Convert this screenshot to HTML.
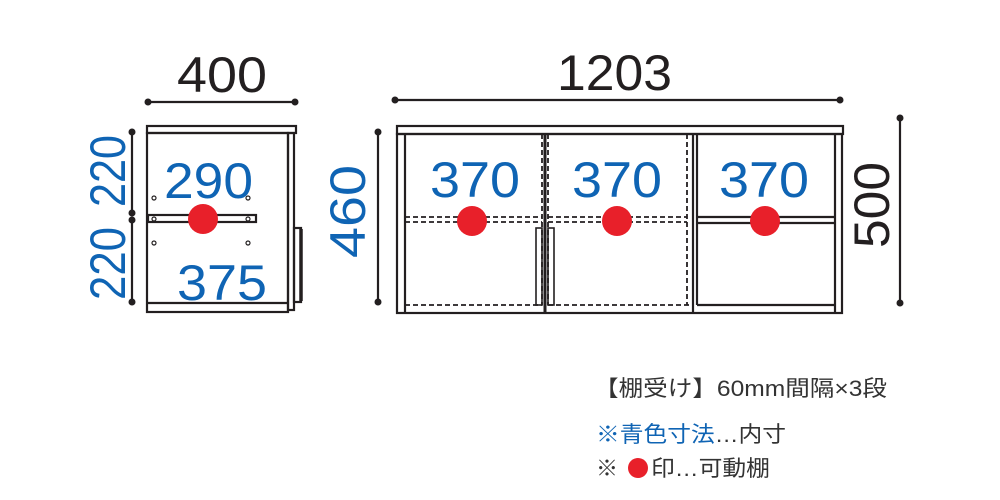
<!DOCTYPE html>
<html><head><meta charset="utf-8"><style>
html,body{margin:0;padding:0;background:#fff;}
svg{display:block;}
text{font-family:"Liberation Sans","Noto Sans CJK JP",sans-serif;}
</style></head><body>
<svg width="1000" height="500" viewBox="0 0 1000 500" xmlns="http://www.w3.org/2000/svg">
<g fill="none" stroke="#231f20" stroke-width="2.2">
<rect x="147" y="126" width="149" height="7"/>
<rect x="147" y="133" width="141" height="179"/>
<rect x="288" y="133" width="6" height="177"/>
<line x1="147" y1="303" x2="288" y2="303"/>
<rect x="148" y="215" width="108" height="7"/>
<rect x="294" y="228" width="7" height="74"/>
</g>
<line x1="301" y1="229" x2="301" y2="301" stroke="#231f20" stroke-width="3.5"/>
<g fill="#fff" stroke="#231f20" stroke-width="1.2">
<circle cx="154" cy="198" r="2"/><circle cx="248" cy="198" r="2"/>
<circle cx="154" cy="219" r="2"/><circle cx="248" cy="219" r="2"/>
<circle cx="154" cy="243" r="2"/><circle cx="248" cy="243" r="2"/>
</g>
<g fill="none" stroke="#231f20" stroke-width="2.2">
<rect x="397" y="126" width="446" height="8"/>
<rect x="397" y="134" width="445" height="179"/>
<line x1="405" y1="134" x2="405" y2="313"/>
<line x1="835" y1="134" x2="835" y2="313"/>
<line x1="545" y1="134" x2="545" y2="313" stroke-width="3"/>
<line x1="693" y1="134" x2="693" y2="313"/>
<line x1="697" y1="134" x2="697" y2="305"/>
<line x1="697" y1="305" x2="835" y2="305"/>
<line x1="697" y1="217" x2="835" y2="217"/>
<line x1="697" y1="223" x2="835" y2="223"/>
<rect x="536" y="228" width="6" height="77" stroke-width="1.6"/>
<rect x="548" y="228" width="6" height="77" stroke-width="1.6"/>
</g>
<g fill="none" stroke="#231f20" stroke-width="1.8" stroke-dasharray="5,3">
<line x1="405" y1="217" x2="542" y2="217"/>
<line x1="405" y1="222" x2="542" y2="222"/>
<line x1="548" y1="217" x2="687" y2="217"/>
<line x1="548" y1="222" x2="687" y2="222"/>
<line x1="542" y1="134" x2="542" y2="305"/>
<line x1="548" y1="134" x2="548" y2="305"/>
<line x1="687" y1="134" x2="687" y2="305"/>
<line x1="405" y1="305" x2="542" y2="305"/>
<line x1="548" y1="305" x2="693" y2="305"/>
</g>
<g fill="#e8202a">
<circle cx="203" cy="219" r="15"/>
<circle cx="472" cy="221" r="15"/>
<circle cx="617" cy="221" r="15"/>
<circle cx="765" cy="221" r="15"/>
</g>
<g stroke="#231f20" stroke-width="2.2">
<line x1="148" y1="102" x2="295" y2="102"/>
<line x1="395" y1="100" x2="840" y2="100"/>
<line x1="132" y1="132" x2="132" y2="213"/>
<line x1="132" y1="220" x2="132" y2="302"/>
<line x1="378" y1="132" x2="378" y2="302"/>
<line x1="900" y1="118" x2="900" y2="303"/>
</g>
<g fill="#231f20">
<circle cx="148" cy="102" r="3.5"/><circle cx="295" cy="102" r="3.5"/>
<circle cx="395" cy="100" r="3.5"/><circle cx="840" cy="100" r="3.5"/>
<circle cx="132" cy="132" r="3.5"/><circle cx="132" cy="213" r="3.5"/>
<circle cx="132" cy="220" r="3.5"/><circle cx="132" cy="302" r="3.5"/>
<circle cx="378" cy="132" r="3.5"/><circle cx="378" cy="302" r="3.5"/>
<circle cx="900" cy="118" r="3.5"/><circle cx="900" cy="303" r="3.5"/>
</g>
<g font-size="50" fill="#231f20" lengthAdjust="spacingAndGlyphs">
<text x="177" y="92" textLength="90" lengthAdjust="spacingAndGlyphs">400</text>
<text x="557" y="90" textLength="115" lengthAdjust="spacingAndGlyphs">1203</text>
<text transform="translate(889,248) rotate(-90)" textLength="86" lengthAdjust="spacingAndGlyphs">500</text>
</g>
<g font-size="50" fill="#0f64b4">
<text x="164" y="198" textLength="89" lengthAdjust="spacingAndGlyphs">290</text>
<text x="177" y="300" textLength="90" lengthAdjust="spacingAndGlyphs">375</text>
<text x="430" y="197" textLength="90" lengthAdjust="spacingAndGlyphs">370</text>
<text x="572" y="197" textLength="90" lengthAdjust="spacingAndGlyphs">370</text>
<text x="719" y="197" textLength="90" lengthAdjust="spacingAndGlyphs">370</text>
<text transform="translate(125,207) rotate(-90)" textLength="72" lengthAdjust="spacingAndGlyphs">220</text>
<text transform="translate(125,300) rotate(-90)" textLength="73" lengthAdjust="spacingAndGlyphs">220</text>
<text transform="translate(365,258) rotate(-90)" textLength="93" lengthAdjust="spacingAndGlyphs">460</text>
</g>
<g font-size="22" fill="#333">
<text x="594" y="396" textLength="293" lengthAdjust="spacingAndGlyphs">【棚受け】60mm間隔×3段</text>
<text x="596" y="442" textLength="190" lengthAdjust="spacingAndGlyphs"><tspan fill="#0f64b4">※青色寸法</tspan>…内寸</text>
<text x="596" y="476">※</text>
<text x="651" y="476" textLength="119" lengthAdjust="spacingAndGlyphs">印…可動棚</text>
</g>
<circle cx="638" cy="468" r="10" fill="#e8202a"/>
</svg>
</body></html>
